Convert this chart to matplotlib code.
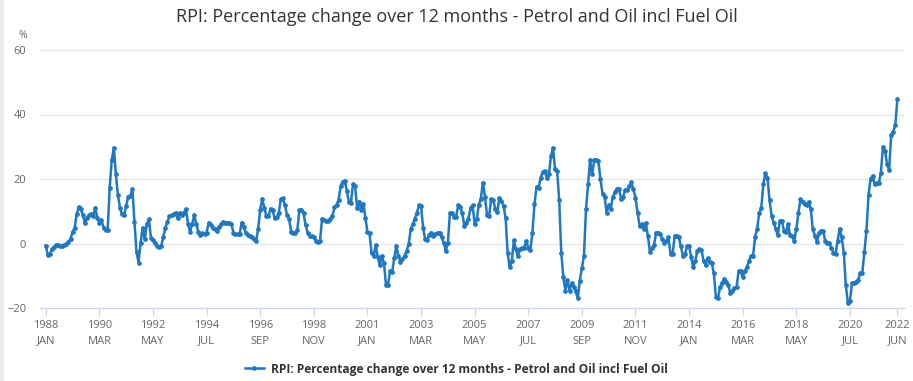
import numpy as np
import pandas as pd
import matplotlib
matplotlib.use('Agg')
import matplotlib.pyplot as plt
from matplotlib.patches import Rectangle

plt.rcParams['font.family'] = ['Open Sans', 'DejaVu Sans']

# RPI petrol & oil, % change over 12 months, monthly Jan 1988 - Jun 2022
y1988 = [-0.7, -3.5, -3.3, -1.8, -1.2, -0.4, -0.4, -0.9, -0.7, -0.5, -0.2, 0.5]
y1989 = [1.5, 3.6, 4.9, 9.1, 11.4, 10.6, 8.8, 6.3, 8.0, 8.8, 9.2, 8.5]
y1990 = [11.1, 8.0, 6.5, 7.3, 4.9, 4.1, 4.2, 17.3, 25.9, 29.7, 21.4, 15.0]
y1991 = [11.1, 9.0, 8.8, 11.6, 14.5, 14.7, 16.8, 6.7, -2.6, -5.9, 0.3, 4.9]
y1992 = [1.3, 6.0, 7.5, 1.8, 1.0, 0.3, -0.7, -1.0, -0.7, 1.9, 4.9, 6.7]
y1993 = [8.4, 8.8, 9.1, 9.6, 8.0, 9.4, 8.7, 9.6, 10.7, 6.0, 3.6, 6.0]
y1994 = [8.8, 6.0, 3.6, 2.6, 3.2, 2.9, 3.4, 6.5, 5.7, 4.9, 4.4, 3.9]
y1995 = [5.2, 5.9, 6.7, 6.5, 6.3, 6.3, 6.0, 3.4, 2.9, 2.8, 2.9, 6.5]
y1996 = [5.2, 3.2, 2.6, 2.2, 1.9, 1.3, 0.8, 4.5, 10.5, 13.9, 11.0, 8.5]
y1997 = [8.4, 10.8, 10.4, 7.8, 8.2, 9.5, 13.8, 14.0, 11.8, 8.8, 7.7, 3.6]
y1998 = [3.4, 3.2, 4.2, 10.3, 10.5, 9.4, 5.7, 3.4, 2.4, 2.2, 1.9, 0.8]
y1999 = [0.5, 0.8, 7.7, 7.3, 7.0, 7.0, 7.7, 8.5, 11.2, 12.0, 13.5, 17.8]
y2000 = [19.2, 19.5, 16.2, 13.0, 12.7, 18.5, 17.8, 11.0, 13.0, 10.5, 12.4, 8.0]
y2001 = [3.6, 3.2, -3.0, -3.8, -0.5, -4.3, -6.7, -3.8, -6.0, -12.8, -12.8, -8.4]
y2002 = [-8.7, -4.6, -0.7, -3.8, -5.7, -4.9, -3.8, -2.3, -0.2, 4.4, 6.0, 7.7]
y2003 = [9.6, 11.8, 11.6, 4.9, 1.3, 1.1, 2.6, 3.4, 2.4, 2.9, 3.4, 3.4]
y2004 = [1.9, 0.3, -2.3, 0.3, 9.4, 9.6, 8.3, 8.3, 11.8, 11.4, 9.4, 5.4]
y2005 = [6.4, 7.7, 11.1, 11.8, 6.0, 7.5, 12.0, 13.9, 18.9, 14.5, 8.8, 8.4]
y2006 = [13.9, 13.5, 10.6, 9.8, 14.2, 13.2, 11.6, 8.0, -3.0, -7.4, -5.4, 1.0]
y2007 = [-1.8, -4.0, -1.8, -1.3, -1.5, 0.8, -1.3, -2.0, 3.4, 12.2, 17.6, 17.3]
y2008 = [20.4, 22.2, 22.5, 20.4, 21.4, 27.1, 29.7, 23.0, 22.5, 13.5, -2.8, -10.5]
y2009 = [-14.6, -11.2, -14.6, -12.2, -13.5, -14.8, -17.0, -11.5, -7.7, -3.8, 10.8, 18.4]
y2010 = [25.9, 21.4, 26.0, 26.0, 25.6, 20.0, 15.5, 14.5, 9.5, 12.0, 10.8, 14.5]
y2011 = [16.0, 17.0, 17.0, 13.7, 14.5, 16.6, 16.5, 17.8, 19.0, 16.8, 14.2, 9.6]
y2012 = [5.5, 6.0, 4.6, 6.3, 2.4, -2.6, -1.5, -0.5, 3.4, 3.4, 2.9, 1.3]
y2013 = [0.3, 0.8, 1.9, -3.3, -3.3, 2.4, 2.4, 1.9, -0.9, -3.8, -3.3, -0.9]
y2014 = [-0.7, -4.3, -7.4, -5.4, -2.3, -1.8, -2.0, -5.4, -6.7, -4.6, -5.7, -6.2]
y2015 = [-9.2, -16.7, -17.0, -13.5, -12.4, -11.0, -12.0, -12.9, -15.4, -14.6, -13.8, -13.6]
y2016 = [-8.5, -8.5, -10.5, -8.5, -7.4, -5.4, -3.8, -3.8, 1.9, 4.6, 9.4, 11.1]
y2017 = [18.4, 21.8, 20.4, 13.5, 8.6, 6.5, 4.6, 2.6, 7.0, 7.0, 3.9, 3.6]
y2018 = [6.0, 2.6, 2.2, 0.8, 4.6, 9.4, 13.7, 12.9, 12.2, 11.8, 12.9, 10.6]
y2019 = [4.4, 2.4, 0.5, 3.4, 3.9, 3.9, 0.8, 0.3, 0.3, -1.5, -2.8, -3.3]
y2020 = [0.8, 4.6, 1.9, -2.8, -12.9, -18.5, -17.8, -12.4, -12.1, -11.8, -11.3, -9.2]
y2021 = [-9.2, -2.6, 3.9, 15.0, 20.1, 21.0, 18.4, 18.7, 18.7, 22.0, 30.0, 28.7]
y2022 = [24.6, 22.8, 33.6, 34.6, 36.7, 44.7]

values = (y1988 + y1989 + y1990 + y1991 + y1992 + y1993 + y1994 + y1995 + y1996
          + y1997 + y1998 + y1999 + y2000 + y2001 + y2002 + y2003 + y2004 + y2005
          + y2006 + y2007 + y2008 + y2009 + y2010 + y2011 + y2012 + y2013 + y2014
          + y2015 + y2016 + y2017 + y2018 + y2019 + y2020 + y2021 + y2022)

months = pd.date_range('1988-01-01', periods=len(values), freq='MS')
x = np.arange(len(values))

# label every 26 months, plus the last month
tick_idx = list(range(0, len(values) - 20, 26)) + [len(values) - 1]
tick_labels = ['{}\n{}'.format(months[i].year, months[i].strftime('%b').upper()) for i in tick_idx]

series_name = 'RPI: Percentage change over 12 months - Petrol and Oil incl Fuel Oil'
line_color = '#1f78c1'

fig = plt.figure(figsize=(9.13, 3.81), dpi=100)
# thin grey strip down the left edge, as in the source page
fig.patches.append(Rectangle((0, 0), 3 / 913, 1, transform=fig.transFigure,
                             color='#ebebeb', zorder=0))
ax = fig.add_axes([40 / 913, 1 - 308 / 381, 865 / 913, 258 / 381])

ax.plot(x, values, color=line_color, lw=1.8, marker='o', ms=2.4, label=series_name, zorder=3)

ax.set_ylim(-20, 60)
ax.set_yticks([-20, 0, 20, 40, 60])
ax.set_xlim(-2.8, 416.7)
ax.set_xticks(tick_idx)
ax.set_xticklabels(tick_labels, linespacing=1.5)

ax.grid(axis='y', color='#e6e6e6', lw=1)
ax.set_axisbelow(True)
for side in ['top', 'right', 'left']:
    ax.spines[side].set_visible(False)
ax.spines['bottom'].set_color('#ccd6eb')
ax.tick_params(axis='x', colors='#ccd6eb', length=6, labelcolor='#666666', labelsize=8, pad=3)
ax.tick_params(axis='y', length=0, labelcolor='#666666', labelsize=8, pad=10)

fig.text(18 / 913, 1 - 35 / 381, '%', color='#666666', fontsize=7.5, va='center')
fig.suptitle(series_name, x=0.5, y=1 - 17 / 381, va='center', fontsize=13, color='#333333')

leg = fig.legend(loc='center', bbox_to_anchor=(0.5, 1 - 369 / 381), frameon=False,
                 prop={'weight': 'bold', 'size': 8.6}, handlelength=1.6, handletextpad=0.6)
for t in leg.get_texts():
    t.set_color('#333333')

fig.savefig('out.png', dpi=100)
